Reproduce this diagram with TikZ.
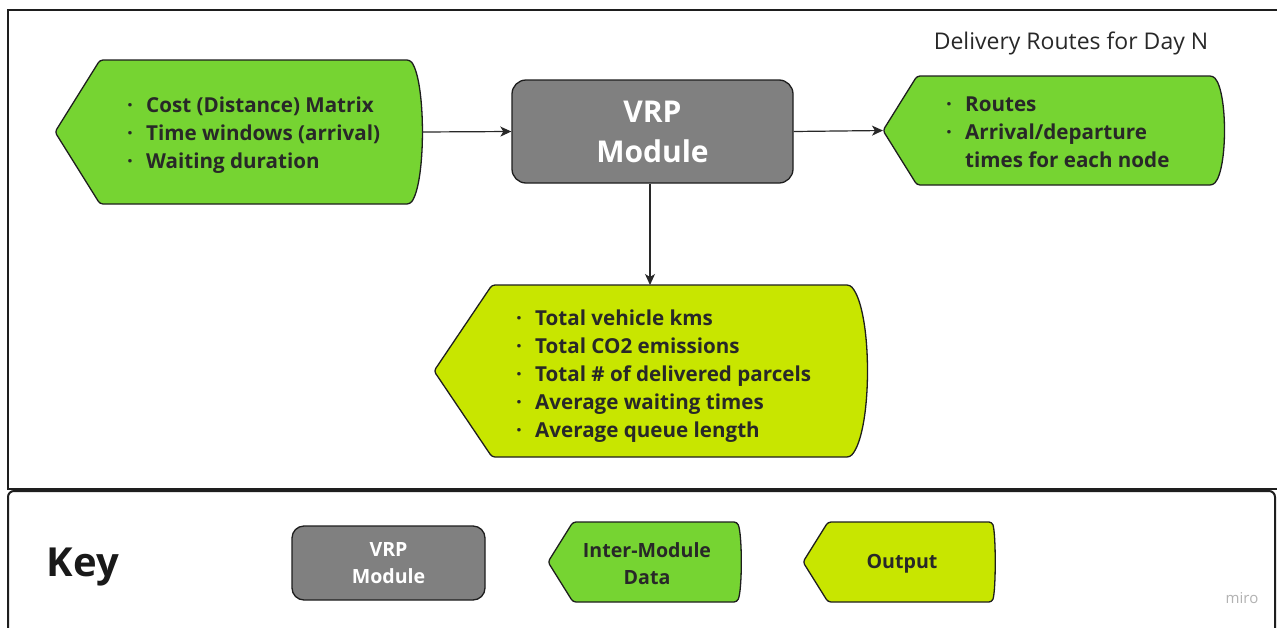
\documentclass[tikz,border=0pt]{standalone}
\usepackage{fontspec}
\setmainfont{Open Sans}
\usetikzlibrary{arrows.meta}
\definecolor{gfill}{RGB}{118,212,50}
\definecolor{yfill}{RGB}{200,230,0}
\definecolor{vgray}{RGB}{128,128,128}
\definecolor{ink}{RGB}{40,40,40}
\definecolor{edge}{RGB}{30,30,30}
\newcommand\bl{\makebox[19pt][l]{·}}
\newcommand\nobl{\makebox[19pt][l]{}}
\newcommand\tagshape[8]{%
  \draw[#2] (#3,{(#7+#8)/2}) -- (#4,#7) -- (#5,#7)
    .. controls ({#5+#6/0.75},{#7+(#8-#7)*0.15}) and ({#5+#6/0.75},{#8-(#8-#7)*0.15}) .. (#5,#8)
    -- (#4,#8) -- cycle;
  \coordinate (#1-tip) at (#3,{(#7+#8)/2});
  \coordinate (#1-east) at ({#5+#6},{(#7+#8)/2});
}
\tikzset{
  greentag/.style={fill=gfill, draw=edge, line width=1.3pt, rounded corners=3pt},
  yellowtag/.style={fill=yfill, draw=edge, line width=1.3pt, rounded corners=3pt},
  vrpbox/.style={fill=vgray, draw=edge, line width=1.3pt, rounded corners=14pt, text=white,
     font=\bfseries, align=center, inner sep=0pt},
  txt/.style={text=ink, font=\bfseries\fontsize{20.6}{28}\selectfont, align=left, inner sep=0pt},
  keytxt/.style={text=ink, font=\bfseries\fontsize{19.6}{27}\selectfont, align=center, inner sep=0pt},
  arr/.style={draw=ink, line width=1.2pt, -{Stealth[length=11pt,width=10pt,inset=3pt]}},
  frame/.style={draw=edge, line width=2pt},
}
\begin{document}
\begin{tikzpicture}[x=1pt,y=-1pt]
\useasboundingbox (0,0) rectangle (1277,627);
\clip (0,0) rectangle (1277,627);
\fill[white] (0,0) rectangle (1277,627);
% frames
\draw[frame] (1290,10) -- (8,10) -- (8,489) -- (1290,489);
\draw[frame, rounded corners=6pt] (8,650) -- (8,491) -- (1275,491) -- (1275,650);
% title
\node[text=ink, font=\fontsize{23}{26}\selectfont, inner sep=0pt] (title) at (1071,43) {Delivery Routes for Day N};
% input shape
\tagshape{in}{greentag}{55}{100}{410}{12}{60}{204}
\node[txt, anchor=west] (inp) at (127,135) {\bl Cost (Distance) Matrix\\ \bl Time windows (arrival)\\ \bl Waiting duration};
% VRP module
\node[vrpbox, minimum width=281pt, minimum height=103pt, font=\bfseries\fontsize{30}{40}\selectfont] (vrp) at (652.5,131.5) {VRP\\Module};
% output shape
\tagshape{out}{greentag}{883}{917}{1213}{11}{76}{185}
\node[txt, anchor=west] (outp) at (946,132.5) {\bl Routes\\ \bl Arrival/departure\\ \nobl times for each node};
% result shape
\tagshape{res}{yellowtag}{434}{492}{850}{17}{285}{457}
\coordinate (res-n) at (650,285);
\node[txt, anchor=west] (resp) at (516,376) {\bl Total vehicle kms\\ \bl Total CO2 emissions\\ \bl Total \# of delivered parcels\\ \bl Average waiting times\\ \bl Average queue length};
% connectors
\draw[arr] (in-east) -- (vrp.west);
\draw[arr] (vrp.east) -- (out-tip);
\draw[arr] (vrp.south -| res-n) -- (res-n);
% key
\node[text=black!90, font=\bfseries\fontsize{40}{44}\selectfont, inner sep=0pt] (key) at (83,567) {Key};
\node[vrpbox, minimum width=193pt, minimum height=74pt, rounded corners=12pt, font=\bfseries\fontsize{19.6}{27}\selectfont] (kvrp) at (388.5,563) {VRP\\Module};
\tagshape{kim}{greentag}{548}{573}{737}{4}{522}{602}
\node[keytxt] (kimt) at (647,564) {Inter-Module\\Data};
\tagshape{kout}{yellowtag}{803}{828}{992}{3}{522}{602}
\node[keytxt] (koutt) at (902,564) {Output};
\node[text=black!30, font=\fontsize{15}{18}\selectfont, inner sep=0pt] (miro) at (1242,598) {miro};
\end{tikzpicture}
\end{document}
